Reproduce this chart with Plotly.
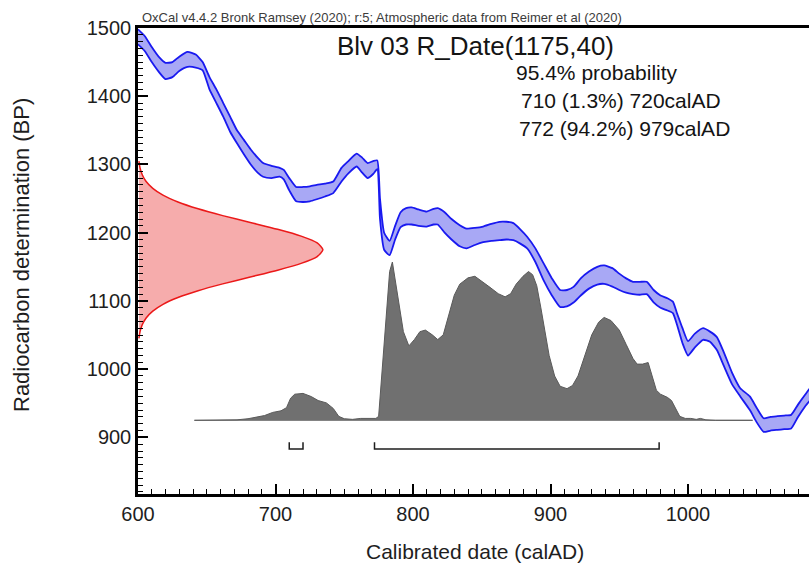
import plotly.graph_objects as go

# ---------------- data ----------------
# Calibration curve (IntCal20) band edges, BP
cal_years = [600, 605, 610, 615, 620, 625, 630, 636, 642, 647, 652, 657, 662, 667, 672, 677,
             682, 687, 691, 697, 703, 706, 710, 715, 720, 725, 730, 736, 742, 748, 753, 759,
             763, 767, 771, 774, 776, 779, 783, 787, 791, 795, 799, 804, 810, 815, 818, 823,
             828, 834, 839, 845, 851, 857, 863, 868, 873, 878, 883, 889, 895, 901, 907, 912,
             917, 922, 928, 934, 939, 945, 950, 955, 960, 965, 970, 975, 980, 985, 989, 992,
             996, 1000, 1005, 1011, 1016, 1021, 1026, 1032, 1038, 1045, 1050, 1055, 1060, 1065,
             1070, 1075, 1080, 1085, 1090]
curve_upper = [1498, 1488, 1472, 1458, 1449, 1450, 1458, 1465, 1461, 1450, 1428, 1410, 1390, 1370, 1350, 1336,
               1322, 1310, 1302, 1298, 1295, 1292, 1280, 1267, 1267, 1268, 1270, 1272, 1275, 1295, 1305, 1316,
               1310, 1302, 1305, 1306, 1250, 1200, 1188, 1210, 1230, 1236, 1237, 1234, 1231, 1235, 1236, 1230,
               1220, 1211, 1206, 1207, 1209, 1213, 1216, 1216, 1214, 1205, 1194, 1177, 1155, 1133, 1116, 1116,
               1121, 1133, 1143, 1150, 1152, 1148, 1140, 1133, 1128, 1128, 1128, 1116, 1108, 1104, 1099, 1082,
               1060, 1041, 1052, 1060, 1055, 1047, 1025, 995, 972, 960, 943, 928, 930, 931,
               932, 933, 948, 962, 975]
curve_lower = [1476, 1466, 1450, 1436, 1425, 1428, 1437, 1443, 1442, 1438, 1410, 1390, 1370, 1348, 1331, 1315,
               1300, 1288, 1282, 1280, 1282, 1278, 1262, 1246, 1245, 1246, 1249, 1253, 1258, 1275, 1287, 1297,
               1288, 1280, 1286, 1293, 1220, 1175, 1167, 1190, 1208, 1212, 1212, 1210, 1209, 1212, 1212, 1200,
               1190, 1180, 1177, 1182, 1186, 1188, 1189, 1190, 1189, 1184, 1177, 1157, 1130, 1108, 1091, 1092,
               1098, 1108, 1118, 1124, 1125, 1121, 1116, 1112, 1110, 1109, 1110, 1098, 1090, 1086, 1082, 1065,
               1038, 1020, 1032, 1043, 1040, 1028, 1005, 978, 960, 940, 922, 908, 910, 911,
               912, 913, 930, 945, 958]

# Posterior (calibrated) probability, % of maximum
hist_years = [641, 665, 672, 680, 686, 692, 698, 704, 708, 711, 714, 720, 726, 731, 737, 742,
              746, 750, 756, 762, 768, 773, 775, 777, 779, 781, 783, 785, 787, 790, 793, 797,
              801, 805, 809, 814, 818, 822, 826, 830, 834, 840, 845, 850, 856, 862, 867, 871,
              875, 880, 884, 887, 890, 893, 896, 899, 903, 907, 912, 916, 920, 925, 930, 935,
              939, 944, 950, 955, 960, 963, 967, 971, 974, 977, 980, 985, 988, 991, 994, 998,
              1002, 1006, 1009, 1013, 1020, 1047]
hist_rel = [0, 0, 0.3, 1, 2, 3, 5, 6, 8, 14, 16.5, 17, 15, 12.5, 11, 7.5,
            2.5, 1, 0.6, 1.2, 1.2, 1.2, 2.5, 25, 51, 76, 94, 100, 89, 71, 56, 47,
            51, 56, 57, 54, 51, 54, 66, 79, 86, 90, 91, 88, 84, 80, 78, 80,
            86, 91, 94, 92, 85, 71, 55, 41, 28, 21.5, 20, 22, 28, 41, 54, 62,
            65, 63, 57, 48, 39, 35.5, 35.5, 36.5, 28, 19, 16.5, 14.5, 12.5, 7.5, 2.5, 1.2,
            1.2, 0.6, 1.2, 0.3, 0, 0]

# Radiocarbon measurement R_Date(1175,40): relative probability along BP axis
rdate_bp = [1045, 1055, 1065, 1075, 1085, 1095, 1105, 1115, 1125, 1135, 1145, 1155, 1165, 1175,
            1185, 1195, 1205, 1215, 1225, 1235, 1245, 1255, 1265, 1275, 1285, 1295, 1305]
rdate_rel = [0.005, 0.011, 0.023, 0.044, 0.080, 0.135, 0.216, 0.325, 0.458, 0.607, 0.755, 0.882, 0.969, 1.0,
             0.969, 0.882, 0.755, 0.607, 0.458, 0.325, 0.216, 0.135, 0.080, 0.044, 0.023, 0.011, 0.005]

# 95.4% ranges
range_from = [710, 772]
range_to = [720, 979]

x_ticks = [600, 700, 800, 900, 1000]
y_ticks = [900, 1000, 1100, 1200, 1300, 1400, 1500]

header_text = "OxCal v4.4.2 Bronk Ramsey (2020); r:5; Atmospheric data from Reimer et al (2020)"
title_text = "Blv 03 R_Date(1175,40)"
prob_lines = ["95.4% probability", "710 (1.3%) 720calAD", "772 (94.2%) 979calAD"]

# ---------------- layout geometry ----------------
W, H = 809, 568
ML, MR, MT, MB = 138, 0, 28, 74
X_RANGE = [600, 1088]
Y_RANGE = [817, 1500]
HIST_BASE = 925      # BP of histogram baseline
HIST_SCALE = 2.32    # BP per %
RDATE_SCALE = 134.5  # years at max probability
BRACKET_Y = 883
BRACKET_TOP = 893

FONT = "Liberation Sans, Arial, sans-serif"

fig = go.Figure()

# posterior histogram
fig.add_trace(go.Scatter(
    x=[hist_years[0], hist_years[-1]], y=[HIST_BASE, HIST_BASE], mode="lines",
    line=dict(color="rgb(110,110,110)", width=1), hoverinfo="skip", showlegend=False))
fig.add_trace(go.Scatter(
    x=hist_years, y=[HIST_BASE + v * HIST_SCALE for v in hist_rel],
    mode="lines", fill="toself", fillcolor="rgb(112,112,112)",
    line=dict(color="rgb(90,90,90)", width=1), showlegend=False))

# red measurement distribution on the y axis
fig.add_trace(go.Scatter(
    x=[X_RANGE[0] + r * RDATE_SCALE for r in rdate_rel], y=rdate_bp,
    mode="lines", fill="toself", fillcolor="rgb(246,172,172)",
    line=dict(color="rgb(235,25,25)", width=1.5, shape="spline", smoothing=0.6),
    showlegend=False))

# calibration curve band
fig.add_trace(go.Scatter(
    x=cal_years + cal_years[::-1], y=curve_upper + curve_lower[::-1],
    mode="lines", fill="toself", fillcolor="rgb(168,168,245)",
    line=dict(color="rgb(25,25,240)", width=1.8, shape="spline", smoothing=0.5),
    showlegend=False))

# range brackets
bx, by = [], []
for a, b in zip(range_from, range_to):
    bx += [a, a, b, b, None]
    by += [BRACKET_TOP, BRACKET_Y, BRACKET_Y, BRACKET_TOP, None]
fig.add_trace(go.Scatter(x=bx, y=by, mode="lines",
                         line=dict(color="rgb(30,30,30)", width=1.5), showlegend=False))

PW = W - ML - MR
PH = H - MT - MB


def px(xp):
    return (xp - ML) / PW


def py(yp):
    return (H - MB - yp) / PH


ann = [
    dict(text=header_text, x=px(140), y=py(17), xanchor="left", yanchor="middle",
         font=dict(size=13, color="rgb(60,60,60)")),
    dict(text=title_text, x=px(475), y=py(46), xanchor="center", yanchor="middle",
         font=dict(size=26, color="rgb(20,20,20)")),
    dict(text=prob_lines[0], x=px(514), y=py(73), xanchor="left", yanchor="middle",
         font=dict(size=21, color="rgb(20,20,20)")),
    dict(text=prob_lines[1], x=px(519), y=py(101), xanchor="left", yanchor="middle",
         font=dict(size=21, color="rgb(20,20,20)")),
    dict(text=prob_lines[2], x=px(517), y=py(128), xanchor="left", yanchor="middle",
         font=dict(size=21, color="rgb(20,20,20)")),
    dict(text="Calibrated date (calAD)", x=px(475), y=py(551), xanchor="center", yanchor="middle",
         font=dict(size=21, color="rgb(30,30,30)")),
    dict(text="Radiocarbon determination (BP)", x=px(22), y=py(255), xanchor="center",
         yanchor="middle", textangle=-90, font=dict(size=22, color="rgb(30,30,30)")),
]
for a in ann:
    a.update(xref="paper", yref="paper", showarrow=False)

fig.update_layout(
    width=W, height=H, margin=dict(l=ML, r=MR, t=MT, b=MB, pad=0),
    paper_bgcolor="white", plot_bgcolor="white",
    font=dict(family=FONT, color="rgb(30,30,30)"),
    annotations=ann, showlegend=False,
    xaxis=dict(range=X_RANGE, showgrid=False, zeroline=False, showline=True,
               linecolor="black", linewidth=2.5, mirror=True,
               ticks="inside", ticklen=10, tickwidth=1.5, tickcolor="black",
               tickvals=x_ticks, ticktext=[str(v) for v in x_ticks],
               tickfont=dict(size=20, family=FONT, color="rgb(30,30,30)"),
               minor=dict(dtick=10, ticks="inside", ticklen=5, tickwidth=1, tickcolor="black",
                          showgrid=False)),
    yaxis=dict(range=Y_RANGE, showgrid=False, zeroline=False, showline=True,
               linecolor="black", linewidth=2.5,
               ticks="inside", ticklen=10, tickwidth=1.5, tickcolor="black",
               tickvals=y_ticks, ticktext=[str(v) for v in y_ticks],
               tickfont=dict(size=20, family=FONT, color="rgb(30,30,30)"),
               minor=dict(dtick=10, ticks="inside", ticklen=5, tickwidth=1, tickcolor="black",
                          showgrid=False)),
)

fig.write_html("out.html", config={"displayModeBar": False},
               post_script="document.body.style.margin='0';document.body.style.overflow='hidden';")
